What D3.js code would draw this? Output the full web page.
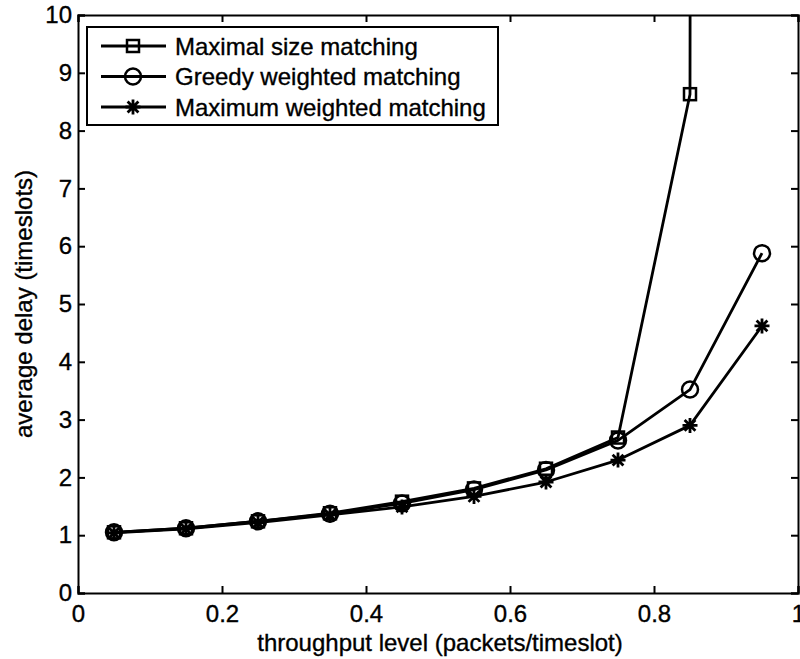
<!DOCTYPE html>
<html>
<head>
<meta charset="utf-8">
<script src="https://cdn.jsdelivr.net/npm/d3@7"></script>
<style>
  body { margin: 0; background: #fff; }
  text { font-family: "Liberation Sans", Arial, sans-serif; fill: #000; stroke: #000; stroke-width: 0.35px; }
</style>
</head>
<body>
<div id="chart"></div>
<script>
// data
const throughput = [0.05, 0.15, 0.25, 0.35, 0.45, 0.55, 0.65, 0.75, 0.85, 0.95];
const maximalSize = [1.05, 1.12, 1.24, 1.38, 1.58, 1.81, 2.15, 2.69, 8.63, 1000];
const greedyWeighted = [1.05, 1.12, 1.24, 1.37, 1.55, 1.79, 2.13, 2.64, 3.52, 5.88];
const maximumWeighted = [1.04, 1.11, 1.22, 1.35, 1.49, 1.67, 1.92, 2.3, 2.9, 4.62];
const xTicks = [0, 0.2, 0.4, 0.6, 0.8, 1];
const yTicks = [0, 1, 2, 3, 4, 5, 6, 7, 8, 9, 10];
const seriesNames = ["Maximal size matching", "Greedy weighted matching", "Maximum weighted matching"];
const markerKinds = ["square", "circle", "star"];

const width = 800, height = 659;
const svg = d3.select("#chart").append("svg")
    .attr("width", width)
    .attr("height", height);

const x = d3.scaleLinear().domain([0, 1]).range([78, 798]);
const y = d3.scaleLinear().domain([0, 10]).range([593, 15]);

const series = [maximalSize, greedyWeighted, maximumWeighted].map((vals, i) => ({
    name: seriesNames[i],
    kind: markerKinds[i],
    points: vals.map((v, j) => ({ x: throughput[j], y: v }))
}));

svg.append("defs").append("clipPath").attr("id", "plot-clip")
    .append("rect")
    .attr("x", x(0)).attr("y", y(10))
    .attr("width", x(1) - x(0)).attr("height", y(0) - y(10));

// axes, MATLAB style: ticks inward on all four sides
const tickLen = 7;
svg.append("g")
    .attr("transform", `translate(0,${y(0)})`)
    .call(d3.axisBottom(x).tickValues(xTicks).tickSize(-tickLen).tickPadding(12)
        .tickFormat(d => d === 0 ? "0" : d3.format("")(d)));
svg.append("g")
    .attr("transform", `translate(0,${y(10)})`)
    .call(d3.axisTop(x).tickValues(xTicks).tickSize(-tickLen).tickFormat(""));
svg.append("g")
    .attr("transform", `translate(${x(0)},0)`)
    .call(d3.axisLeft(y).tickValues(yTicks).tickSize(-tickLen).tickPadding(6));
svg.append("g")
    .attr("transform", `translate(${x(1)},0)`)
    .call(d3.axisRight(y).tickValues(yTicks).tickSize(-tickLen).tickFormat(""));

svg.selectAll(".domain").attr("stroke", "#000").attr("stroke-width", 2);
svg.selectAll(".tick line").attr("stroke", "#000").attr("stroke-width", 2);
svg.selectAll(".tick text")
    .style("font-size", "24px")
    .style("font-family", "'Liberation Sans', Arial, sans-serif")
    .attr("fill", "#000");

// axis labels
svg.append("text")
    .attr("x", 440).attr("y", 651)
    .attr("text-anchor", "middle")
    .style("font-size", "24px")
    .text("throughput level (packets/timeslot)");
svg.append("text")
    .attr("transform", `translate(32,${(y(0) + y(10)) / 2}) rotate(-90)`)
    .attr("text-anchor", "middle")
    .style("font-size", "24px")
    .text("average delay (timeslots)");

// markers
function drawMarker(g, kind, cx, cy) {
    if (kind === "square") {
        g.append("rect")
            .attr("x", cx - 6).attr("y", cy - 6)
            .attr("width", 12).attr("height", 12)
            .attr("fill", "none").attr("stroke", "#000").attr("stroke-width", 2.5);
    } else if (kind === "circle") {
        g.append("circle")
            .attr("cx", cx).attr("cy", cy).attr("r", 8)
            .attr("fill", "none").attr("stroke", "#000").attr("stroke-width", 2.5);
    } else {
        const r = 7.5, d = r * 0.72;
        g.append("path")
            .attr("d", `M${cx - r},${cy}L${cx + r},${cy}M${cx},${cy - r}L${cx},${cy + r}` +
                `M${cx - d},${cy - d}L${cx + d},${cy + d}M${cx - d},${cy + d}L${cx + d},${cy - d}`)
            .attr("stroke", "#000").attr("stroke-width", 2.8);
    }
}

const line = d3.line().x(d => x(d.x)).y(d => y(d.y));
const plot = svg.append("g").attr("clip-path", "url(#plot-clip)");

series.forEach(s => {
    plot.append("path")
        .datum(s.points)
        .attr("d", line)
        .attr("fill", "none")
        .attr("stroke", "#000")
        .attr("stroke-width", 2.8)
        .attr("stroke-linejoin", "round");
    const mg = plot.append("g");
    s.points.forEach(p => {
        if (p.y <= 10) drawMarker(mg, s.kind, x(p.x), y(p.y));
    });
});

// legend
const legend = svg.append("g");
legend.append("rect")
    .attr("x", 87).attr("y", 27)
    .attr("width", 411).attr("height", 98)
    .attr("fill", "#fff").attr("stroke", "#000").attr("stroke-width", 2);
series.forEach((s, i) => {
    const ly = 46 + i * 30.5;
    legend.append("line")
        .attr("x1", 101).attr("x2", 166)
        .attr("y1", ly).attr("y2", ly)
        .attr("stroke", "#000").attr("stroke-width", 2.8);
    drawMarker(legend, s.kind, 133, ly);
    legend.append("text")
        .attr("x", 175).attr("y", ly + 8.5)
        .style("font-size", "24px")
        .text(s.name);
});
</script>
</body>
</html>
